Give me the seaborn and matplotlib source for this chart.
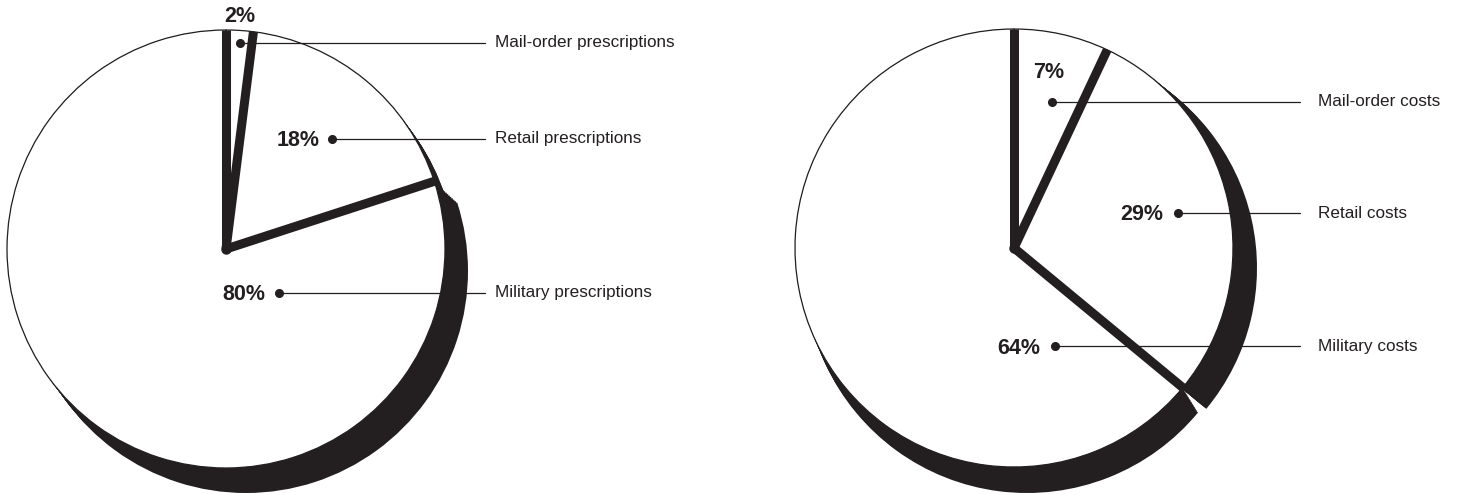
import numpy as np
import matplotlib
matplotlib.use("Agg")
import matplotlib.pyplot as plt
import seaborn as sns

# Shares of prescriptions and of costs by delivery channel
rx_categories = ["Mail-order prescriptions", "Retail prescriptions", "Military prescriptions"]
rx_share = [2, 18, 80]
cost_categories = ["Mail-order costs", "Retail costs", "Military costs"]
cost_share = [7, 29, 64]

INK = "#231f20"
W, H = 1464, 495

sns.set_theme(style="white")
plt.rcParams["font.family"] = ["Liberation Sans", "DejaVu Sans"]

fig = plt.figure(figsize=(W / 100, H / 100), dpi=100)
ax = fig.add_axes([0, 0, 1, 1])


def yy(y_px):
    """Convert a top-down pixel row into the axes' upward y."""
    return H - y_px


def draw_pie(values, labels, center, radius, depth, pct_pos, dot_pos,
             pct_ha, line_end, label_x):
    cx, cy = center[0], yy(center[1])
    total = float(np.sum(values))
    # side walls: each slice is swept down-right to give it thickness
    start = 90.0
    for v, (dx, dy, grow) in zip(values, depth):
        frac = v / total
        for t in np.linspace(1.0, 0.0, 16):
            ax.pie([frac], normalize=False, radius=radius + grow * t,
                   center=(cx + dx * t, cy - dy * t), startangle=start,
                   counterclock=False, colors=[INK],
                   wedgeprops=dict(linewidth=0), frame=True)
        start -= frac * 360
    # white top faces of the slices
    ax.pie(values, radius=radius, center=(cx, cy), startangle=90,
           counterclock=False, colors=["white"] * len(values),
           wedgeprops=dict(edgecolor=INK, linewidth=0.9), frame=True)
    # thick dividers between slices
    bounds = np.concatenate([[0], np.cumsum(values)[:-1]]) / total * 360
    for b in bounds:
        t = np.deg2rad(b)
        ax.plot([cx, cx + radius * np.sin(t)], [cy, cy + radius * np.cos(t)],
                color=INK, lw=6.5, solid_capstyle="butt", zorder=5)
    ax.plot([cx], [cy], "o", color=INK, ms=6.5, zorder=5)

    for v, lab, pp, dp, ha in zip(values, labels, pct_pos, dot_pos, pct_ha):
        ax.text(pp[0], yy(pp[1]), f"{v}%", ha=ha, va="center", fontsize=15.5,
                fontweight="bold", color=INK, zorder=7)
        ax.plot([dp[0], line_end], [yy(dp[1]), yy(dp[1])], color=INK, lw=0.9,
                zorder=6)
        ax.plot([dp[0]], [yy(dp[1])], "o", color=INK, ms=5.5, zorder=7)
        ax.text(label_x, yy(dp[1]), lab, ha="left", va="center", fontsize=12.3,
                color=INK, zorder=7)


draw_pie(rx_share, rx_categories, center=(226, 249), radius=219,
         depth=[(10, 15, 1), (10, 15, 1), (20, 22, 3)],
         pct_pos=[(240, 16), (320, 141), (265, 295)],
         dot_pos=[(240, 43), (332, 139), (279, 293)],
         pct_ha=["center", "right", "right"],
         line_end=485, label_x=495)

draw_pie(cost_share, cost_categories, center=(1014, 248), radius=219,
         depth=[(22, 20, 2), (22, 20, 2), (13, 23, 3)],
         pct_pos=[(1049, 73), (1163, 215), (1040, 348)],
         dot_pos=[(1052, 102), (1178, 213), (1055, 346)],
         pct_ha=["center", "right", "right"],
         line_end=1300, label_x=1318)

ax.set_xlim(0, W)
ax.set_ylim(0, H)
ax.set_aspect("equal")
ax.axis("off")

fig.savefig("out.png", dpi=100, facecolor="white")
